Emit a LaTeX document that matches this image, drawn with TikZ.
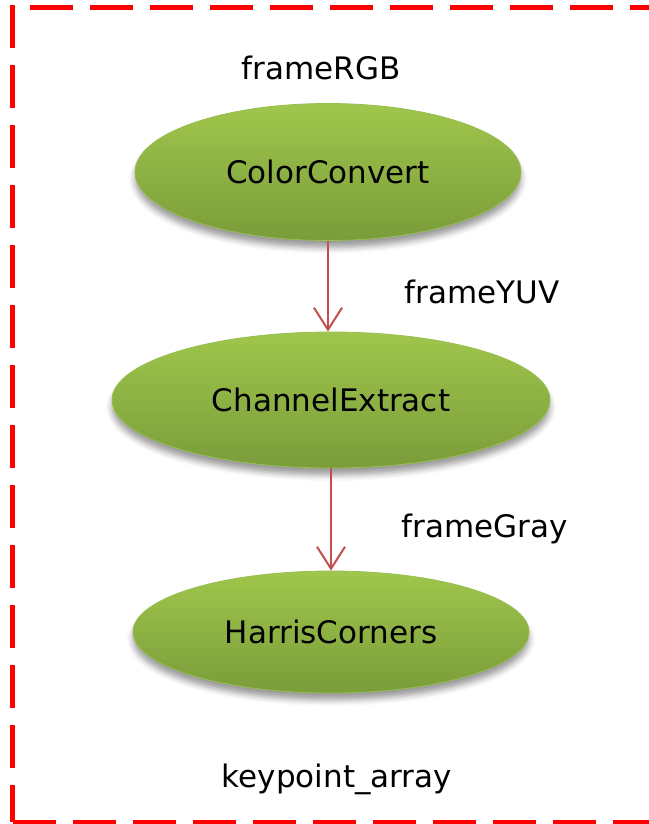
\documentclass[tikz,border=0pt]{standalone}
\usepackage{fontspec}
\setmainfont{DejaVu Sans}
\usetikzlibrary{arrows.meta,shapes.geometric,shadows.blur}
\definecolor{bordred}{RGB}{255,0,0}
\definecolor{arrred}{RGB}{192,80,77}
\definecolor{gtop}{RGB}{160,198,76}
\definecolor{gbot}{RGB}{122,156,58}
\definecolor{gedge}{RGB}{150,190,80}
\tikzset{
  proc/.style={ellipse, inner sep=0pt, top color=gtop, bottom color=gbot,
    draw=gedge, line width=0.8pt,
    blur shadow={shadow xshift=0pt, shadow yshift=-7pt, shadow blur radius=6pt, shadow opacity=40},
    font=\fontsize{31}{37}\selectfont},
  lbl/.style={anchor=base, inner sep=0pt, font=\fontsize{31}{37}\selectfont},
  flow/.style={draw=arrred, line width=2pt, -{Straight Barb[length=22pt,width=28pt,line width=2pt]}},
  bord/.style={draw=bordred, line width=5pt, dash pattern=on 43pt off 17pt}
}
\begin{document}
\begin{tikzpicture}[x=1pt,y=-1pt]
\useasboundingbox (0,0) rectangle (648,824);
% dashed frame
\draw[bord] (12.5,5) -- (12.5,822);
\draw[bord] (12.5,822) -- (680,822);
\draw[bord] (30,7.5) -- (680,7.5);
% process nodes
\node[proc, minimum width=386pt, minimum height=137pt] (cc) at (328,172) {ColorConvert};
\node[proc, minimum width=438pt, minimum height=136pt] (ce) at (331,400) {ChannelExtract};
\node[proc, minimum width=396pt, minimum height=122pt] (hc) at (331,632) {HarrisCorners};
% labels
\node[lbl] (rgb) at (321,80) {frameRGB};
\node[lbl] (yuv) at (482,303) {frameYUV};
\node[lbl] (gray) at (485,537) {frameGray};
\node[lbl] (kp) at (337,787) {keypoint\_array};
% connectors
\draw[flow] (cc.south) -- (cc.south |- ce.north);
\draw[flow] (ce.south) -- (hc.north);
\end{tikzpicture}
\end{document}
